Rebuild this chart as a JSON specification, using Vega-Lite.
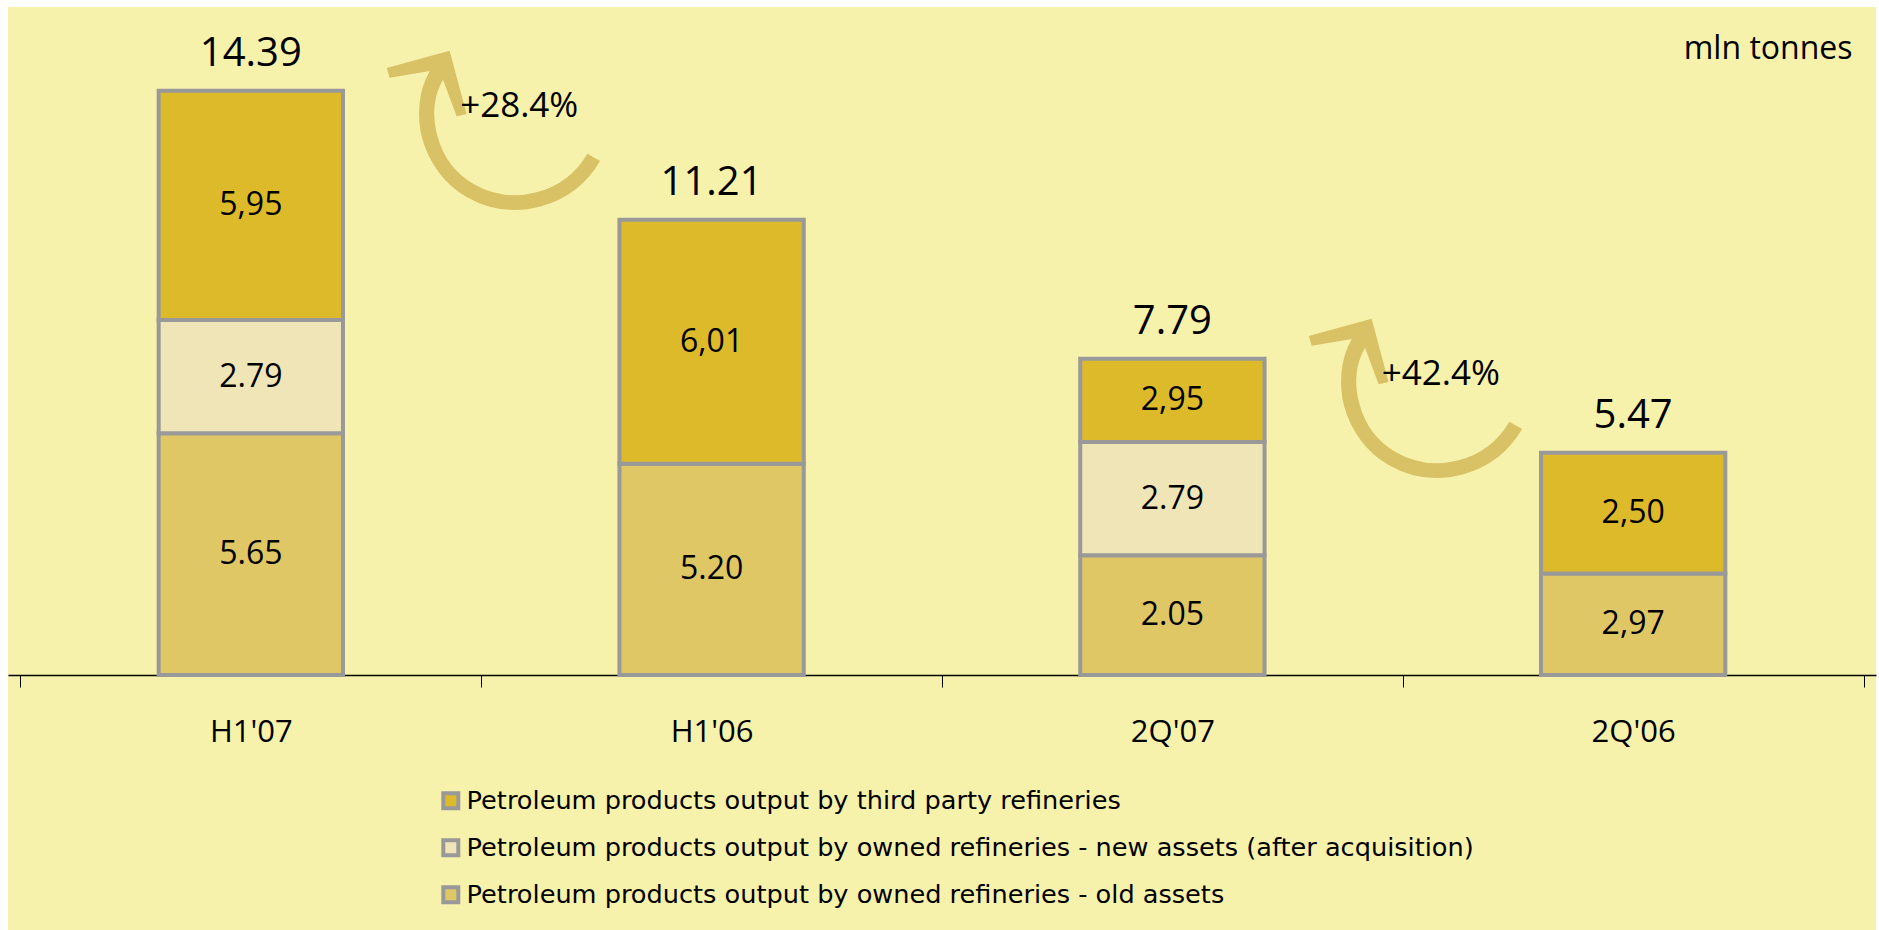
{
  "$schema": "https://vega.github.io/schema/vega-lite/v6.json",
  "width": 1868,
  "height": 923,
  "autosize": "none",
  "padding": {"left": 8, "top": 7, "right": 3, "bottom": 0},
  "background": "white",
  "datasets": {
    "output": [
      {"period": "H1'07", "series": "Petroleum products output by owned refineries - old assets", "level": 1, "value": 5.95, "label": "5.65"},
      {"period": "H1'07", "series": "Petroleum products output by owned refineries - new assets (after acquisition)", "level": 2, "value": 2.79, "label": "2.79"},
      {"period": "H1'07", "series": "Petroleum products output by third party refineries", "level": 3, "value": 5.65, "label": "5,95"},
      {"period": "H1'06", "series": "Petroleum products output by owned refineries - old assets", "level": 1, "value": 5.20, "label": "5.20"},
      {"period": "H1'06", "series": "Petroleum products output by third party refineries", "level": 3, "value": 6.01, "label": "6,01"},
      {"period": "2Q'07", "series": "Petroleum products output by owned refineries - old assets", "level": 1, "value": 2.95, "label": "2.05"},
      {"period": "2Q'07", "series": "Petroleum products output by owned refineries - new assets (after acquisition)", "level": 2, "value": 2.79, "label": "2.79"},
      {"period": "2Q'07", "series": "Petroleum products output by third party refineries", "level": 3, "value": 2.05, "label": "2,95"},
      {"period": "2Q'06", "series": "Petroleum products output by owned refineries - old assets", "level": 1, "value": 2.50, "label": "2,97"},
      {"period": "2Q'06", "series": "Petroleum products output by third party refineries", "level": 3, "value": 2.97, "label": "2,50"}
    ],
    "changes": [
      {"period": "H1'07", "compared": "H1'06", "change": "+28.4%", "total": 14.39},
      {"period": "2Q'07", "compared": "2Q'06", "change": "+42.4%", "total": 7.79}
    ]
  },
  "config": {
    "font": "Open Sans",
    "view": {"fill": "#F7F2AB", "stroke": null},
    "axis": {"grid": false},
    "axisX": {
      "title": null, "labelAngle": 0, "labelFont": "Open Sans", "labelFontSize": 31,
      "labelColor": "black", "labelBaseline": "alphabetic", "labelPadding": 54,
      "tickBand": "extent", "tickSize": 12, "tickColor": "black", "tickWidth": 1,
      "domainColor": "black", "domainWidth": 1.3, "offset": -255
    },
    "axisY": {
      "labels": false, "ticks": false, "domain": false,
      "titleAngle": 0, "titleX": -24, "titleY": 51, "titleAlign": "right", "titleBaseline": "alphabetic",
      "titleFont": "Open Sans", "titleFontSize": 32, "titleFontWeight": "normal", "titleColor": "black"
    }
  },
  "layer": [
    {
      "data": {"name": "output"},
      "mark": {"type": "bar", "width": {"band": 0.4}, "stroke": "#999999", "strokeWidth": 4},
      "encoding": {
        "x": {
          "field": "period", "type": "nominal", "title": null,
          "sort": ["H1'07", "H1'06", "2Q'07", "2Q'06"],
          "scale": {"paddingInner": 0, "paddingOuter": 0.027},
          "axis": {"title": null}
        },
        "y": {
          "field": "value", "type": "quantitative", "stack": "zero", "title": "mln tonnes",
          "scale": {"domain": [-6.28, 16.45], "nice": false, "zero": false},
          "axis": {"orient": "right", "title": "mln tonnes"}
        },
        "color": {
          "field": "series", "type": "nominal",
          "scale": {
            "domain": [
              "Petroleum products output by third party refineries",
              "Petroleum products output by owned refineries - new assets (after acquisition)",
              "Petroleum products output by owned refineries - old assets"
            ],
            "range": ["#DDBA2A", "#F0E5B6", "#DFC766"]
          },
          "legend": {
            "orient": "none", "legendX": 430, "legendY": 781, "title": null, "direction": "vertical",
            "padding": 0, "labelFont": "DejaVu Sans", "labelFontSize": 25.6, "labelColor": "black",
            "labelLimit": 0, "labelOffset": 3, "rowPadding": 15,
            "symbolType": "square", "symbolSize": 225, "symbolStrokeColor": "#999999", "symbolStrokeWidth": 4
          }
        },
        "order": {"field": "level", "type": "quantitative"}
      }
    },
    {
      "data": {"name": "output"},
      "mark": {"type": "text", "font": "Open Sans", "fontSize": 32, "color": "black", "baseline": "middle", "align": "center"},
      "encoding": {
        "x": {"field": "period", "type": "nominal", "title": null, "sort": ["H1'07", "H1'06", "2Q'07", "2Q'06"], "axis": {"title": null}},
        "y": {"field": "value", "type": "quantitative", "stack": "zero", "bandPosition": 0.5, "title": "mln tonnes", "axis": {"orient": "right", "title": "mln tonnes"}},
        "detail": {"field": "series", "type": "nominal"},
        "order": {"field": "level", "type": "quantitative"},
        "text": {"field": "label", "type": "nominal"}
      }
    },
    {
      "data": {"name": "output"},
      "mark": {"type": "text", "font": "Open Sans", "fontSize": 40, "color": "black", "baseline": "alphabetic", "align": "center", "dy": -25},
      "encoding": {
        "x": {"field": "period", "type": "nominal", "title": null, "sort": ["H1'07", "H1'06", "2Q'07", "2Q'06"], "axis": {"title": null}},
        "y": {"aggregate": "sum", "field": "value", "type": "quantitative", "title": "mln tonnes", "axis": {"orient": "right", "title": "mln tonnes"}},
        "text": {"aggregate": "sum", "field": "value", "type": "quantitative", "format": ".2f"}
      }
    },
    {
      "data": {"name": "changes"},
      "mark": {
        "type": "text", "text": "⤸", "font": "DejaVu Sans", "fontSize": 225,
        "color": "#D9C166",
        "baseline": "middle", "align": "center", "angle": 120, "dx": 41, "dy": -26
      },
      "encoding": {
        "x": {"field": "period", "type": "nominal", "title": null, "sort": ["H1'07", "H1'06", "2Q'07", "2Q'06"], "bandPosition": 1, "axis": {"title": null}},
        "y": {"field": "total", "type": "quantitative", "title": "mln tonnes", "axis": {"orient": "right", "title": "mln tonnes"}}
      }
    },
    {
      "data": {"name": "changes"},
      "mark": {"type": "text", "font": "Open Sans", "fontSize": 35, "color": "black", "baseline": "middle", "align": "center", "dx": 38, "dy": 15},
      "encoding": {
        "x": {"field": "period", "type": "nominal", "title": null, "sort": ["H1'07", "H1'06", "2Q'07", "2Q'06"], "bandPosition": 1, "axis": {"title": null}},
        "y": {"field": "total", "type": "quantitative", "title": "mln tonnes", "axis": {"orient": "right", "title": "mln tonnes"}},
        "text": {"field": "change", "type": "nominal"}
      }
    }
  ]
}
